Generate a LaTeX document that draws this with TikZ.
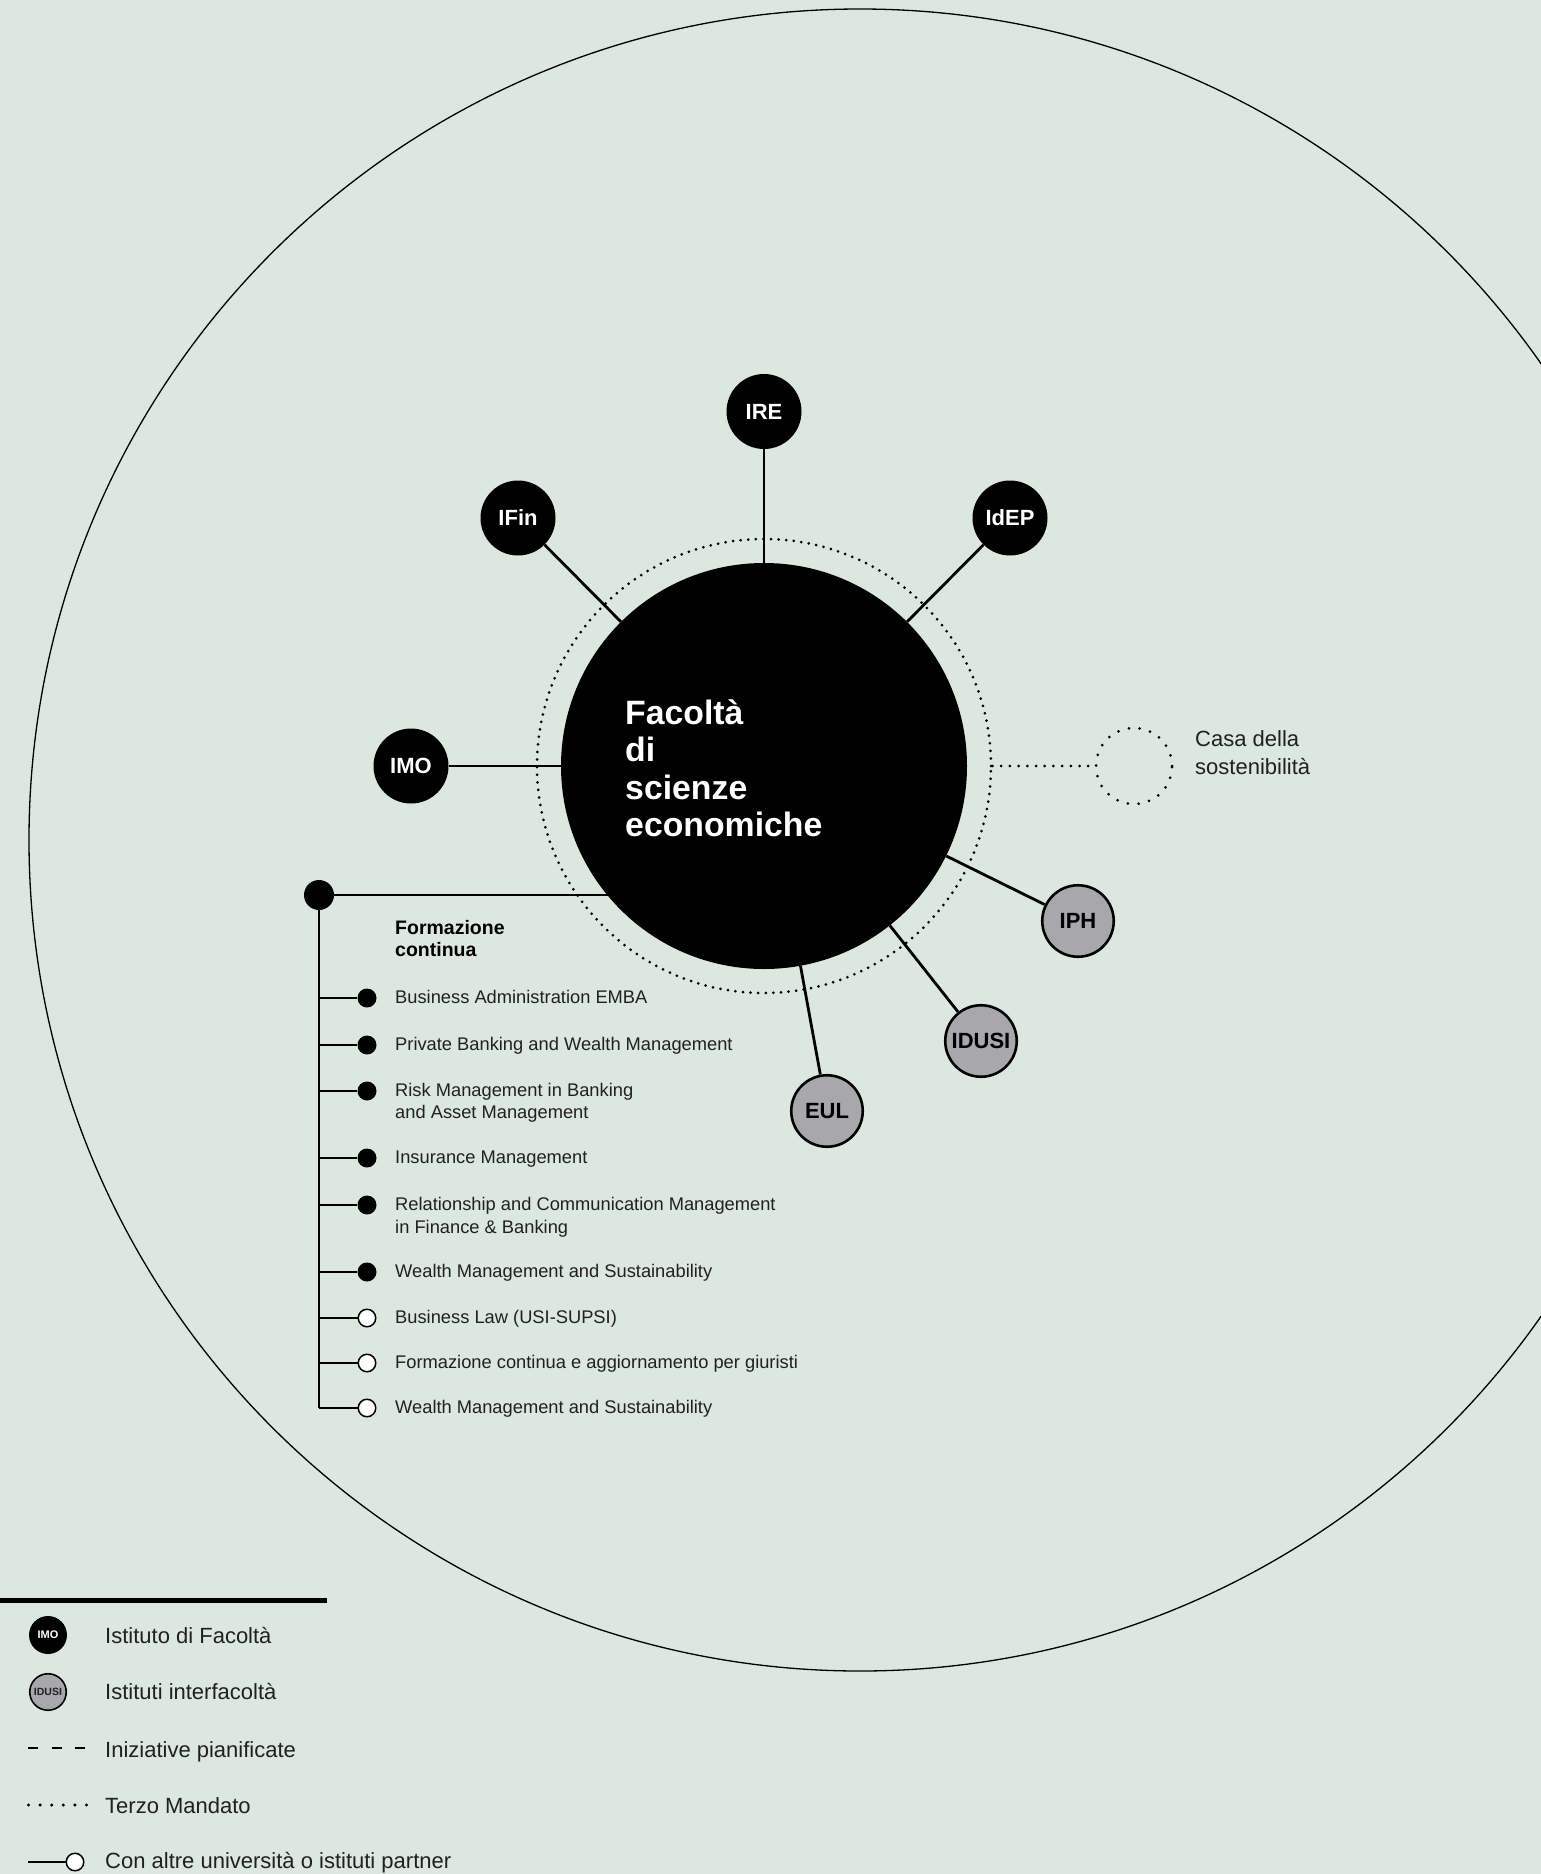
\documentclass[tikz,border=0pt]{standalone}
\usepackage{fontspec}
\setmainfont{Liberation Sans}
\definecolor{bgc}{RGB}{220,231,224}
\definecolor{satgrey}{RGB}{168,168,172}
\definecolor{ink}{RGB}{32,32,32}
\pgfdeclarelayer{bglayer}
\pgfdeclarelayer{edgelayer}
\pgfsetlayers{bglayer,edgelayer,main}
\newcommand{\fsz}[1]{\fontsize{#1}{#1}\selectfont}
\newcommand{\stacktwo}[3]{\vtop{\baselineskip=#1pt\hbox{#2}\hbox{#3}}}
\begin{document}
\begin{tikzpicture}[x=1pt,y=-1pt,
  sat/.style={circle,fill=black,minimum size=75pt,inner sep=0pt,text=white,font=\bfseries\fsz{22}},
  gsat/.style={circle,fill=satgrey,draw=black,line width=2.6pt,minimum size=71.5pt,inner sep=0pt,text=black,font=\bfseries\fsz{22}},
  conn/.style={draw=black,line width=2.8pt},
  thinline/.style={draw=black,line width=1.6pt},
  dotty/.style={draw=black,line width=3pt,line cap=round,dash pattern=on 0pt off 7.6pt},
  bigdot/.style={circle,fill=black,minimum size=30pt,inner sep=0pt},
  fulldot/.style={circle,fill=black,minimum size=19pt,inner sep=0pt},
  opendot/.style={circle,fill=white,draw=black,line width=1.5pt,minimum size=17.5pt,inner sep=0pt},
  itemtxt/.style={anchor=base west,inner sep=0pt,text=ink,font=\fsz{18.3}},
  legtxt/.style={anchor=base west,inner sep=0pt,text=ink,font=\fsz{22}},
]
\useasboundingbox (0,0) rectangle (1541,1874);
\begin{pgfonlayer}{bglayer}
\fill[bgc] (0,0) rectangle (1541,1874);
\end{pgfonlayer}
\begin{scope}
\clip (0,0) rectangle (1541,1874);
\draw[line width=1.3pt] (860,840) circle[radius=831];
\end{scope}

% central faculty
\node[circle,fill=black,minimum size=406pt,inner sep=0pt] (main) at (764,766) {};
\node[circle,dotty,minimum size=454pt,inner sep=0pt] (ring) at (764,766) {};
\node[anchor=base west,inner sep=0pt,text=white,font=\bfseries\fsz{33.8}] (maintxt) at (625,724)
  {\vtop{\baselineskip=37.5pt\hbox{Facoltà}\hbox{di}\hbox{scienze}\hbox{economiche}}};

% institutes
\node[sat] (IRE) at (764,411.5) {IRE};
\node[sat] (IFin) at (518,518) {IFin};
\node[sat] (IdEP) at (1010,518) {IdEP};
\node[sat] (IMO) at (411,766) {IMO};
\node[gsat] (IPH) at (1078,921) {IPH};
\node[gsat] (IDUSI) at (981,1041) {IDUSI};
\node[gsat] (EUL) at (827,1111) {EUL};

% Casa della sostenibilita
\node[circle,minimum size=76pt,inner sep=0pt,draw=black,line width=3pt,line cap=round,dash pattern=on 0pt off 10.8pt] (casa) at (1134,766) {};
\node[anchor=base west,inner sep=0pt,text=ink,font=\fsz{22}] (casatxt) at (1195,746) {\stacktwo{28}{Casa della}{sostenibilità}};

% Formazione continua
\node[bigdot] (fc) at (319,895) {};
\node[anchor=base west,inner sep=0pt,text=black,font=\bfseries\fsz{19.5}] (fctitle) at (395,934) {\stacktwo{22}{Formazione}{continua}};
\node[fulldot] (i1) at (367,998) {};
\node[fulldot] (i2) at (367,1045) {};
\node[fulldot] (i3) at (367,1091) {};
\node[fulldot] (i4) at (367,1158) {};
\node[fulldot] (i5) at (367,1205) {};
\node[fulldot] (i6) at (367,1272) {};
\node[opendot] (i7) at (367,1318) {};
\node[opendot] (i8) at (367,1363) {};
\node[opendot] (i9) at (367,1408) {};
\node[itemtxt] (t1) at (395,1003.5) {Business Administration EMBA};
\node[itemtxt] (t2) at (395,1050.5) {Private Banking and Wealth Management};
\node[itemtxt] (t3) at (395,1096.5) {\stacktwo{22}{Risk Management in Banking}{and Asset Management}};
\node[itemtxt] (t4) at (395,1163.5) {Insurance Management};
\node[itemtxt] (t5) at (395,1210.5) {\stacktwo{22.5}{Relationship and Communication Management}{in Finance \& Banking}};
\node[itemtxt] (t6) at (395,1277.5) {Wealth Management and Sustainability};
\node[itemtxt] (t7) at (395,1323.5) {Business Law (USI-SUPSI)};
\node[itemtxt] (t8) at (395,1368.5) {Formazione continua e aggiornamento per giuristi};
\node[itemtxt] (t9) at (395,1413.5) {Wealth Management and Sustainability};

% connectors
\begin{pgfonlayer}{edgelayer}
\draw[conn] (IRE) -- (main);
\draw[conn] (IFin) -- (main);
\draw[conn] (IdEP) -- (main);
\draw[conn] (IMO) -- (main);
\draw[conn] (IPH) -- (main);
\draw[conn] (IDUSI) -- (main);
\draw[conn] (EUL) -- (main);
\draw[line width=3pt,line cap=round,dash pattern=on 0pt off 8.7pt] (ring.east) -- (casa);
\draw[thinline] (fc.center) -- (fc.center -| main.center);
\draw[thinline] (fc.center) -- (fc.center |- i9);
\foreach \k in {1,...,9}{\draw[thinline] (fc.center |- i\k) -- (i\k);}
\end{pgfonlayer}

% legend
\draw[line width=5pt] (0,1600) -- (327,1600);
\node[circle,fill=black,minimum size=38pt,inner sep=0pt,text=white,font=\bfseries\fsz{11}] (lgA) at (48,1635) {IMO};
\node[circle,fill=satgrey,draw=black,line width=1.6pt,minimum size=36.5pt,inner sep=0pt,text=ink,font=\bfseries\fsz{10.5}] (lgB) at (48,1692) {IDUSI};
\coordinate (da) at (28,1748);
\coordinate (db) at (85,1748);
\draw[line width=2.5pt,dash pattern=on 10pt off 13.5pt] (da) -- (db);
\coordinate (ta) at (28.5,1805);
\coordinate (tb) at (86.5,1805);
\draw[line width=3.4pt,line cap=round,dash pattern=on 0pt off 11.6pt] (ta) -- (tb);
\coordinate (pa) at (28,1862);
\node[opendot] (pb) at (75,1862) {};
\draw[thinline] (pa) -- (pb);
\node[legtxt] (l1) at (105,1643) {Istituto di Facoltà};
\node[legtxt] (l2) at (105,1699) {Istituti interfacoltà};
\node[legtxt] (l3) at (105,1757) {Iniziative pianificate};
\node[legtxt] (l4) at (105,1813) {Terzo Mandato};
\node[legtxt] (l5) at (105,1868) {Con altre università o istituti partner};
\end{tikzpicture}
\end{document}
